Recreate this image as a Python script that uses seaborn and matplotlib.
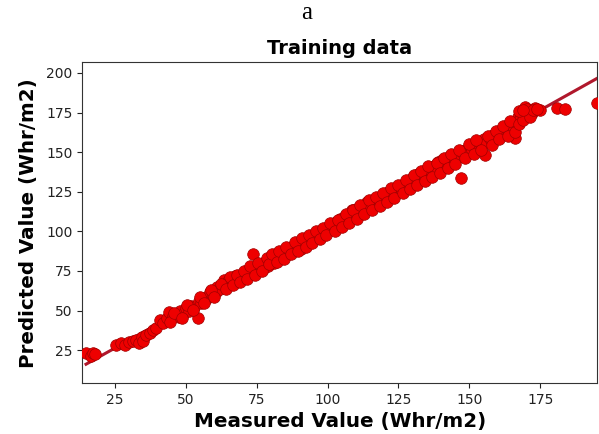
import matplotlib
matplotlib.use("Agg")
import matplotlib.pyplot as plt
import seaborn as sns
import pandas as pd

# Measured vs. predicted irradiance on the training set (Whr/m2)
measured = [
    14.8, 16.5, 17.2, 18.0,
    25.5, 27.0, 28.5, 30.0, 31.5, 32.5, 33.5, 34.5, 35.0, 36.0, 37.5, 38.5, 39.5,
    41.0, 42.0, 43.5, 44.0, 45.5, 46.5, 47.5, 48.0, 49.0, 50.0, 51.0, 52.0, 53.0,
    54.2, 54.5, 55.5, 56.0, 57.0, 58.0, 58.5, 59.5, 60.5, 61.0, 62.0, 63.0, 63.5,
    64.5, 65.0, 66.0, 67.0, 67.5, 68.5, 69.5, 70.0, 71.0, 72.0, 73.0, 73.6, 74.0,
    75.0, 76.0, 76.5, 77.5, 78.0, 79.0, 80.0, 81.0, 81.5, 82.5, 83.5, 84.0, 85.0,
    86.0, 86.5, 87.5, 88.0, 89.0, 90.0, 90.5, 91.5, 92.0, 93.0, 94.0, 95.0, 95.5,
    96.5, 97.0, 98.0, 99.0, 100.0, 100.5, 101.5, 102.0, 103.0, 104.0, 104.5, 105.5,
    106.0, 107.0, 108.0, 108.5, 109.5, 110.0, 111.0, 112.0, 112.5, 113.5, 114.0,
    115.0, 116.0, 116.5, 117.5, 118.0, 119.0, 120.0, 120.5, 121.5, 122.0, 123.0,
    124.0, 124.5, 125.5, 126.0, 127.0, 128.0, 128.5, 129.5, 130.0, 131.0, 132.0,
    132.5, 133.5, 134.0, 135.0, 136.0, 136.5, 137.5, 138.0, 139.0, 140.0, 140.5,
    141.5, 142.0, 143.0, 144.0, 144.5, 145.5, 146.0, 147.1, 147.0, 148.0, 149.0,
    149.5, 150.5, 151.0, 152.0, 153.0, 153.5, 154.5, 155.4, 155.0, 156.0, 157.0,
    157.5, 158.5, 159.0, 160.0, 161.0, 161.5, 162.5, 163.0, 164.0, 165.0, 166.2,
    165.5, 166.5, 167.0, 168.0, 168.5, 169.5, 170.0, 171.0, 172.0, 173.0, 175.0,
    180.9, 183.8, 195.0,
    44.5, 46.0, 48.5, 50.5, 52.5, 55.0, 56.5, 59.0, 60.0, 62.5, 64.0, 65.5, 66.5,
    68.0, 69.0, 70.5, 71.5, 72.5, 74.5, 75.5, 77.0, 78.5, 79.5, 80.5, 82.0, 83.0,
    84.5, 85.5, 87.0, 88.5, 89.5, 91.0, 92.5, 93.5, 94.5, 96.0, 97.5, 98.5, 99.5,
    101.0, 102.5, 103.5, 105.0, 106.5, 107.5, 109.0, 110.5, 111.5, 113.0, 114.5,
    115.5, 117.0, 118.5, 119.5, 121.0, 122.5, 123.5, 125.0, 126.5, 127.5, 129.0,
    130.5, 131.5, 133.0, 134.5, 135.5, 137.0, 138.5, 139.5, 141.0, 142.5, 143.5,
    145.0, 146.5, 148.5, 150.0, 151.5, 152.5, 154.0, 156.5, 158.0, 159.5, 160.5,
    162.0, 163.5, 164.5, 166.0, 167.5, 169.0, 170.5, 171.5, 172.5, 174.0, 167.5,
    169.0,
]
predicted = [
    23.0, 21.5, 23.5, 22.5,
    28.0, 29.5, 28.5, 30.0, 30.5, 31.5, 29.5, 33.0, 31.0, 34.5, 36.0, 37.5, 39.0,
    44.0, 42.0, 45.0, 49.0, 46.5, 47.0, 46.0, 49.5, 48.0, 51.5, 50.0, 53.0, 52.0,
    45.2, 56.0, 55.0, 58.0, 57.0, 59.5, 61.5, 60.0, 62.0, 65.0, 63.5, 66.5, 69.0,
    66.0, 68.5, 70.0, 67.5, 71.5, 69.0, 72.0, 70.5, 74.0, 72.5, 76.0, 85.4, 74.0,
    77.5, 75.5, 79.0, 77.0, 80.5, 78.0, 82.0, 80.0, 84.0, 86.0, 83.0, 86.5, 88.0,
    85.5, 89.5, 88.0, 91.0, 90.0, 92.5, 89.0, 94.0, 92.0, 95.5, 94.0, 97.0, 95.0,
    98.5, 97.0, 100.0, 98.5, 102.5, 101.0, 104.0, 102.5, 106.0, 104.5, 108.0, 106.0,
    109.5, 107.5, 111.0, 113.5, 110.0, 114.0, 112.0, 116.0, 113.0, 115.5, 118.5,
    116.5, 119.0, 117.0, 120.5, 118.5, 122.0, 121.0, 124.0, 122.5, 125.5, 124.0,
    127.0, 125.0, 128.5, 126.5, 130.0, 128.5, 132.0, 130.0, 134.0, 132.0, 136.0,
    133.5, 137.5, 135.0, 138.0, 140.5, 137.5, 141.0, 139.0, 143.5, 141.5, 145.0,
    142.5, 146.0, 144.0, 147.5, 145.5, 149.0, 147.0, 133.8, 150.5, 148.5, 152.0,
    150.0, 153.5, 151.5, 155.0, 153.0, 156.5, 155.0, 148.2, 158.0, 156.0, 159.5,
    157.5, 161.0, 159.0, 162.5, 161.0, 164.0, 162.0, 165.5, 163.5, 167.0, 159.1,
    165.0, 169.0, 172.5, 171.0, 174.5, 178.5, 173.0, 176.5, 175.0, 178.0, 176.6,
    177.6, 177.0, 181.0,
    43.0, 48.5, 45.5, 53.5, 50.5, 58.5, 54.5, 63.0, 58.5, 66.5, 63.5, 71.0, 66.0,
    72.5, 68.0, 75.0, 70.0, 78.0, 72.5, 80.0, 75.0, 83.0, 79.5, 85.5, 80.5, 87.5,
    82.5, 90.0, 86.0, 93.0, 87.5, 95.5, 90.0, 97.5, 92.5, 100.0, 95.0, 102.0, 97.5,
    105.5, 100.0, 107.0, 103.0, 111.0, 105.0, 113.5, 108.0, 116.5, 111.0, 119.5,
    113.5, 121.5, 116.0, 124.5, 118.5, 127.5, 121.0, 129.0, 124.0, 132.5, 126.5,
    135.5, 129.5, 138.0, 132.0, 141.5, 134.5, 143.0, 137.0, 146.5, 140.0, 149.0,
    142.5, 151.5, 146.0, 155.0, 149.0, 157.5, 151.5, 160.5, 154.5, 163.5, 158.0,
    166.5, 160.0, 169.5, 163.0, 167.5, 170.5, 177.0, 172.5, 176.5, 177.5, 176.0,
    176.5,
]
x_ticks = [25, 50, 75, 100, 125, 150, 175]
y_ticks = [25, 50, 75, 100, 125, 150, 175, 200]

df = pd.DataFrame({"measured": measured, "predicted": predicted})

fig = plt.figure(figsize=(5.99, 4.34), dpi=100)
ax = fig.add_axes([0.137, 0.118, 0.860, 0.738])

# Regression line sits underneath the scatter cloud
sns.regplot(
    data=df, x="measured", y="predicted", ax=ax,
    scatter_kws={"color": "#ee0000", "edgecolor": "#a00000", "linewidths": 0.5,
                 "s": 70, "alpha": 1, "zorder": 3},
    line_kws={"color": "#b0182c", "linewidth": 2.2, "zorder": 2},
)

ax.set_xlim(13.4, 195.1)
ax.set_ylim(4.4, 206.6)
ax.set_xticks(x_ticks)
ax.set_yticks(y_ticks)
ax.tick_params(labelsize=10, colors="#222222")
for sp in ax.spines.values():
    sp.set_color("#333333")

ax.set_title("Training data", fontsize=14, fontweight="bold")
ax.set_xlabel("Measured Value (Whr/m2)", fontsize=14.3, fontweight="bold")
ax.set_ylabel("Predicted Value (Whr/m2)", fontsize=14.3, fontweight="bold", labelpad=6)

fig.text(0.512, 1 - 13 / 434, "a", ha="center", va="center",
         family="Liberation Serif", fontsize=18)

fig.savefig("out.png", dpi=100)
